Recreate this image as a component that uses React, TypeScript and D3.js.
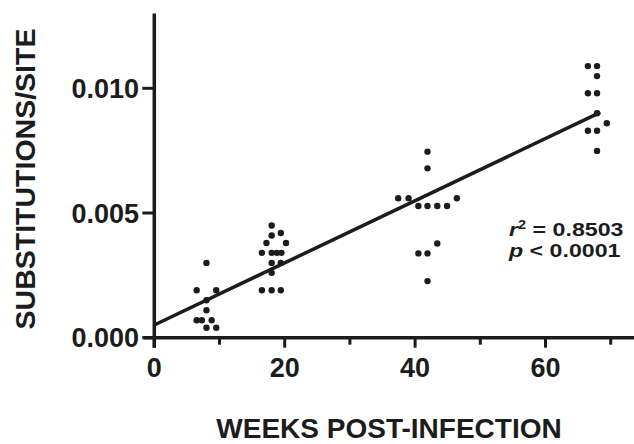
import React, { useRef, useEffect } from 'react';
import * as d3 from 'd3';

// weeks post-infection (column scatter positions) and substitutions/site
const weeks8 = [8.0, 6.5, 9.5, 8.0, 8.0, 6.5, 7.3, 8.8, 8.0, 9.5];
const subs8 = [0.0030, 0.0019, 0.0019, 0.0015, 0.0011, 0.0007, 0.0007, 0.0007, 0.0004, 0.0004];

const weeks18 = [18.0, 18.0, 19.4, 17.2, 20.2, 16.5, 18.0, 18.8, 19.5, 18.0, 19.4, 18.0, 16.5, 18.0, 19.4];
const subs18 = [0.0045, 0.0041, 0.0042, 0.0038, 0.0038, 0.0034, 0.0034, 0.0034, 0.0034, 0.0030, 0.0030, 0.0026, 0.0019, 0.0019, 0.0019];

const weeks42 = [41.9, 41.9, 37.4, 39.0, 46.4, 40.5, 41.9, 43.4, 44.9, 43.4, 40.5, 41.9, 41.9];
const subs42 = [0.00746, 0.00679, 0.00559, 0.00559, 0.00559, 0.00528, 0.00528, 0.00528, 0.00528, 0.00378, 0.00338, 0.00338, 0.00227];

const weeks68 = [66.5, 67.9, 67.9, 66.5, 67.9, 67.9, 69.4, 66.5, 67.9, 67.9];
const subs68 = [0.01089, 0.01089, 0.01049, 0.0098, 0.0098, 0.0090, 0.0086, 0.0083, 0.0083, 0.00749];

// fitted line: intercept, slope, x range
const fitIntercept = 0.00051;
const fitSlope = 0.0001246;
const fitWeeks = [0, 68.4];

const xTicks = [0, 20, 40, 60];
const xMinorTicks = [10, 30, 50, 70];
const yTicks = [0, 0.005, 0.01];

const INK = '#1c1c1c';
const FONT = '"Liberation Sans", Arial, Helvetica, sans-serif';

const ScatterFit = () => {
  const ref = useRef<SVGSVGElement>(null);

  useEffect(() => {
    const svg = d3.select(ref.current);
    svg.selectAll('*').remove();

    const x = d3.scaleLinear().domain([0, 74]).range([154.3, 636.8]);
    const y = d3.scaleLinear().domain([0, 0.013]).range([337.7, 13.5]);

    const points = [
      ...d3.zip(weeks8, subs8),
      ...d3.zip(weeks18, subs18),
      ...d3.zip(weeks42, subs42),
      ...d3.zip(weeks68, subs68)
    ];

    const g = svg.append('g')
      .style('font-family', FONT)
      .style('font-weight', 'bold')
      .attr('fill', INK);

    // axis lines
    g.append('line')
      .attr('x1', x(0)).attr('x2', x(0))
      .attr('y1', y(0.013)).attr('y2', y(0) + 10)
      .attr('stroke', INK).attr('stroke-width', 3.5);
    g.append('line')
      .attr('x1', x(0) - 11).attr('x2', 634)
      .attr('y1', y(0)).attr('y2', y(0))
      .attr('stroke', INK).attr('stroke-width', 3.5);

    // x ticks
    g.selectAll('.xt')
      .data(xTicks)
      .enter().append('line')
      .attr('x1', d => x(d)).attr('x2', d => x(d))
      .attr('y1', y(0)).attr('y2', y(0) + 10)
      .attr('stroke', INK).attr('stroke-width', 3);
    g.selectAll('.xm')
      .data(xMinorTicks)
      .enter().append('line')
      .attr('x1', d => x(d)).attr('x2', d => x(d))
      .attr('y1', y(0)).attr('y2', y(0) + 7)
      .attr('stroke', INK).attr('stroke-width', 3);
    g.selectAll('.xl')
      .data(xTicks)
      .enter().append('text')
      .attr('x', d => x(d))
      .attr('y', 377)
      .attr('text-anchor', 'middle')
      .style('font-size', '27px')
      .text(d => d3.format('d')(d));

    // y ticks
    g.selectAll('.yt')
      .data(yTicks)
      .enter().append('line')
      .attr('x1', x(0) - 12).attr('x2', x(0))
      .attr('y1', d => y(d)).attr('y2', d => y(d))
      .attr('stroke', INK).attr('stroke-width', 3);
    g.selectAll('.yl')
      .data(yTicks)
      .enter().append('text')
      .attr('x', 139)
      .attr('y', d => y(d))
      .attr('dy', '0.36em')
      .attr('text-anchor', 'end')
      .style('font-size', '27px')
      .text(d => d3.format('.3f')(d));

    // axis titles
    g.append('text')
      .attr('x', 389).attr('y', 438)
      .attr('text-anchor', 'middle')
      .style('font-size', '28px')
      .text('WEEKS POST-INFECTION');
    g.append('text')
      .attr('transform', 'translate(35,179) rotate(-90)')
      .attr('text-anchor', 'middle')
      .style('font-size', '28.5px')
      .text('SUBSTITUTIONS/SITE');

    // fitted line
    const line = d3.line<number>()
      .x(d => x(d))
      .y(d => y(fitIntercept + fitSlope * d));
    g.append('path')
      .attr('d', line(fitWeeks))
      .attr('fill', 'none')
      .attr('stroke', INK)
      .attr('stroke-width', 3.5);

    // points
    g.selectAll('.dot')
      .data(points)
      .enter().append('circle')
      .attr('cx', d => x(d[0]))
      .attr('cy', d => y(d[1]))
      .attr('r', 3.2)
      .attr('fill', INK);

    // stats (the original text is a little stretched horizontally)
    const stats = g.append('text')
      .attr('transform', 'translate(509,0) scale(1.22,1)')
      .style('font-size', '19px');
    const l1 = stats.append('tspan').attr('x', 0).attr('y', 236.5);
    l1.append('tspan').style('font-style', 'italic').text('r');
    l1.append('tspan').attr('dy', -7).style('font-size', '12px').text('2');
    l1.append('tspan').attr('dy', 7).text(' = 0.8503');
    const l2 = stats.append('tspan').attr('x', 0).attr('y', 257.5);
    l2.append('tspan').style('font-style', 'italic').text('p');
    l2.append('tspan').text(' < 0.0001');
  }, []);

  return (
    <svg ref={ref} width="634" height="444"
      style={{ position: 'absolute', left: 0, top: 0, display: 'block', background: '#fff' }} />
  );
};

export default function App() {
  return <ScatterFit />;
}
